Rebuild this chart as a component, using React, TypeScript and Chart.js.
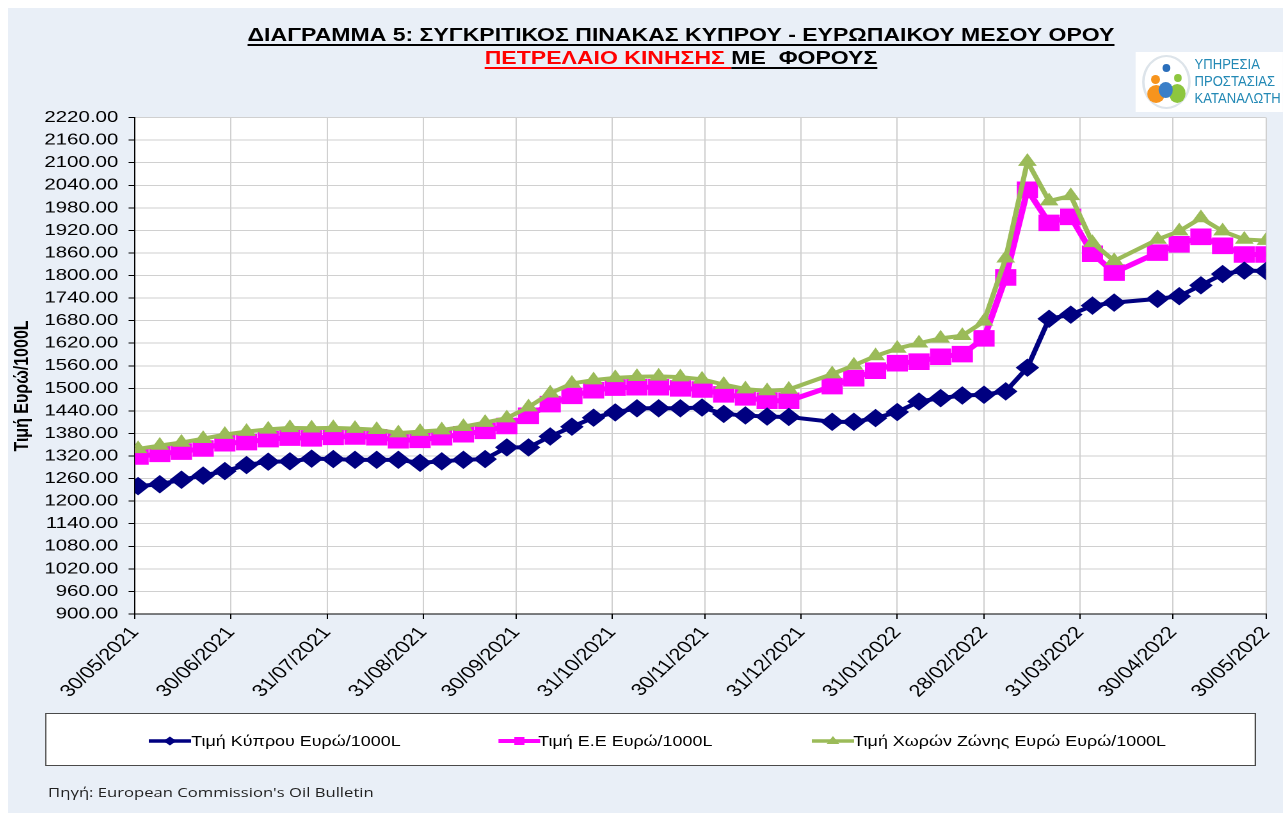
import React, { useEffect, useRef } from "react";
import { Chart, registerables } from "chart.js";

Chart.register(...registerables);

// ---------- DATA ----------
const dates = [
  "31/05/2021", "07/06/2021", "14/06/2021", "21/06/2021", "28/06/2021", "05/07/2021", "12/07/2021",
  "19/07/2021", "26/07/2021", "02/08/2021", "09/08/2021", "16/08/2021", "23/08/2021", "30/08/2021",
  "06/09/2021", "13/09/2021", "20/09/2021", "27/09/2021", "04/10/2021", "11/10/2021", "18/10/2021",
  "25/10/2021", "01/11/2021", "08/11/2021", "15/11/2021", "22/11/2021", "29/11/2021", "06/12/2021",
  "13/12/2021", "20/12/2021", "27/12/2021",
  "10/01/2022", "17/01/2022", "24/01/2022", "31/01/2022", "07/02/2022", "14/02/2022", "21/02/2022",
  "28/02/2022", "07/03/2022", "14/03/2022", "21/03/2022", "28/03/2022", "04/04/2022", "11/04/2022",
  "25/04/2022", "02/05/2022", "09/05/2022", "16/05/2022", "23/05/2022", "30/05/2022",
];

const cyprusPrice = [
  1240, 1245, 1257, 1268, 1280, 1296, 1305, 1306, 1313, 1312, 1310, 1310, 1310, 1302, 1306, 1310,
  1312, 1343, 1343, 1372, 1398, 1422, 1436, 1447, 1447, 1447, 1449, 1432, 1428, 1425, 1424,
  1411, 1411, 1421, 1437, 1465, 1474, 1481, 1483, 1492, 1555, 1685, 1696, 1720, 1728,
  1738, 1745, 1774, 1804, 1813, 1812,
];

const euPrice = [
  1319, 1326, 1332, 1340, 1354, 1357, 1365, 1369, 1367, 1371, 1372, 1370, 1362, 1363, 1370, 1378,
  1387, 1400, 1427, 1458, 1480, 1495, 1502, 1503, 1503, 1500, 1497, 1484, 1476, 1467, 1467,
  1506, 1527, 1547, 1567, 1571, 1584, 1591, 1633, 1795, 2028, 1940, 1956, 1858, 1808,
  1861, 1883, 1903, 1879, 1856, 1856,
];

const euroZonePrice = [
  1339, 1348, 1356, 1366, 1377, 1385, 1391, 1395, 1394, 1395, 1393, 1390, 1381, 1385, 1389, 1398,
  1409, 1421, 1450, 1487, 1513, 1522, 1528, 1531, 1532, 1530, 1524, 1510, 1498, 1493, 1497,
  1538, 1561, 1586, 1606, 1620, 1633, 1640, 1678, 1846, 2103, 1998, 2012, 1887, 1839,
  1896, 1918, 1953, 1918, 1896, 1893,
];

const xTickLabels = [
  "30/05/2021", "30/06/2021", "31/07/2021", "31/08/2021", "30/09/2021", "31/10/2021", "30/11/2021",
  "31/12/2021", "31/01/2022", "28/02/2022", "31/03/2022", "30/04/2022", "30/05/2022",
];

const yMin = 900;
const yMax = 2220;
const yStep = 60;

const seriesLabels = [
  "Τιμή Κύπρου Ευρώ/1000L",
  "Τιμή Ε.Ε Ευρώ/1000L",
  "Τιμή Χωρών Ζώνης Ευρώ Ευρώ/1000L",
];
const seriesColors = ["#000080", "#FF00FF", "#9BBB59"];

const titleLine1 = "ΔΙΑΓΡΑΜΜΑ 5: ΣΥΓΚΡΙΤΙΚΟΣ ΠΙΝΑΚΑΣ ΚΥΠΡΟΥ - ΕΥΡΩΠΑΙΚΟΥ ΜΕΣΟΥ ΟΡΟΥ";
const titleRed = "ΠΕΤΡΕΛΑΙΟ ΚΙΝΗΣΗΣ ";
const titleBlack = "ΜΕ  ΦΟΡΟΥΣ";
const yTitle = "Τιμή Ευρώ/1000L";
const sourceText = "Πηγή: European Commission's Oil Bulletin";
const logoLines = ["ΥΠΗΡΕΣΙΑ", "ΠΡΟΣΤΑΣΙΑΣ", "ΚΑΤΑΝΑΛΩΤΗ"];

// ---------- HELPERS ----------
const ORIGIN = Date.UTC(2021, 4, 30);
const dayNum = (s: string) => {
  const [d, m, y] = s.split("/").map(Number);
  return (Date.UTC(y, m - 1, d) - ORIGIN) / 86400000;
};
const xDays = dates.map(dayNum);
const tickDays = xTickLabels.map(dayNum);
const toPoints = (vals: number[]) => vals.map((v, i) => ({ x: xDays[i], y: v }));

const FONT = "'Liberation Sans', Arial, sans-serif";
const STRETCH = 1.28;
const PANEL_W = 996;

const plotBg = {
  id: "plotBg",
  beforeDraw(chart: any) {
    const { ctx, chartArea } = chart;
    ctx.save();
    ctx.fillStyle = "#ffffff";
    ctx.fillRect(chartArea.left, chartArea.top, chartArea.width, chartArea.height);
    ctx.restore();
  },
};

function LegendMarker({ idx }: { idx: number }) {
  const c = seriesColors[idx];
  return (
    <svg width={33} height={16} style={{ display: "block" }}>
      <line x1={0} y1={8} x2={33} y2={8} stroke={c} strokeWidth={idx === 1 ? 4 : 3.5} />
      {idx === 0 && <polygon points="16.5,3.5 21.5,8 16.5,12.5 11.5,8" fill={c} />}
      {idx === 1 && <rect x={12.5} y={4} width={8} height={8} fill={c} />}
      {idx === 2 && <polygon points="16.5,3 21.5,11 11.5,11" fill={c} />}
    </svg>
  );
}

export default function App() {
  const canvasRef = useRef<HTMLCanvasElement | null>(null);

  useEffect(() => {
    if (!canvasRef.current) return;
    const chart = new Chart(canvasRef.current, {
      type: "line",
      data: {
        datasets: [
          {
            label: seriesLabels[0],
            data: toPoints(cyprusPrice),
            borderColor: seriesColors[0],
            backgroundColor: seriesColors[0],
            borderWidth: 4,
            pointStyle: "rectRot",
            pointRadius: 8.5,
            pointBorderWidth: 1,
            order: 0,
          },
          {
            label: seriesLabels[1],
            data: toPoints(euPrice),
            borderColor: seriesColors[1],
            backgroundColor: seriesColors[1],
            borderWidth: 5,
            pointStyle: "rect",
            pointRadius: 11,
            pointBorderWidth: 1,
            order: 2,
          },
          {
            label: seriesLabels[2],
            data: toPoints(euroZonePrice),
            borderColor: seriesColors[2],
            backgroundColor: seriesColors[2],
            borderWidth: 4,
            pointStyle: "triangle",
            pointRadius: 7.5,
            pointBorderWidth: 1,
            order: 1,
          },
        ],
      },
      options: {
        animation: false,
        responsive: false,
        devicePixelRatio: 2,
        events: [],
        layout: { padding: { left: 0, right: 13.2, top: 14, bottom: 0 } },
        elements: { line: { tension: 0 } },
        plugins: {
          legend: { display: false },
          tooltip: { enabled: false },
          title: { display: false },
        },
        scales: {
          x: {
            type: "linear",
            min: tickDays[0],
            max: tickDays[tickDays.length - 1],
            afterBuildTicks: (scale: any) => {
              scale.ticks = tickDays.map((v) => ({ value: v }));
            },
            afterFit: (scale: any) => {
              scale.height = 86;
              scale.paddingLeft = 0;
              scale.paddingRight = 0;
            },
            ticks: {
              autoSkip: false,
              minRotation: 50,
              maxRotation: 50,
              padding: 4,
              color: "#000",
              font: { family: FONT, size: 17 },
              callback: (_v: any, i: number) => xTickLabels[i],
            },
            grid: { color: "#d0d0d0", tickColor: "#000", tickLength: 5, drawTicks: true },
            border: { color: "#000", width: 1 },
          },
          y: {
            min: yMin,
            max: yMax,
            afterFit: (scale: any) => {
              scale.width = 99.2;
            },
            ticks: {
              stepSize: yStep,
              padding: 8,
              color: "#000",
              font: { family: FONT, size: 16 },
              callback: (v: any) => Number(v).toFixed(2),
            },
            grid: { color: "#d0d0d0", tickColor: "#000", tickLength: 5, drawTicks: true },
            border: { color: "#000", width: 1 },
          },
        },
      },
      plugins: [plotBg],
    } as any);
    return () => chart.destroy();
  }, []);

  const legendPos = [
    { marker: 80.5, text: 113.3 },
    { marker: 353.1, text: 384.4 },
    { marker: 597.7, text: 630.5 },
  ];

  return (
    <div
      style={{
        position: "absolute",
        left: 8,
        top: 8,
        width: 1275,
        height: 805,
        overflow: "hidden",
        background: "#e9eff7",
      }}
    >
      <div
        style={{
          position: "absolute",
          left: 0,
          top: 0,
          width: PANEL_W,
          height: 805,
          transform: `scaleX(${STRETCH})`,
          transformOrigin: "0 0",
          fontFamily: FONT,
        }}
      >
        {/* Title */}
        <div
          style={{
            position: "absolute",
            left: 525.8,
            top: 16,
            transform: "translateX(-50%)",
            whiteSpace: "pre",
            fontWeight: "bold",
            fontSize: 18,
            lineHeight: "23px",
            textAlign: "center",
            color: "#000",
          }}
        >
          <div>
            <span style={{ textDecoration: "underline", textDecorationThickness: 2, textUnderlineOffset: 3 }}>
              {titleLine1}
            </span>
          </div>
          <div>
            <span
              style={{
                color: "#ff0000",
                textDecoration: "underline",
                textDecorationColor: "#ff0000",
                textDecorationThickness: 2,
                textUnderlineOffset: 3,
              }}
            >
              {titleRed}
            </span>
            <span style={{ textDecoration: "underline", textDecorationThickness: 2, textUnderlineOffset: 3 }}>
              {titleBlack}
            </span>
          </div>
        </div>

        {/* Logo */}
        <div
          style={{
            position: "absolute",
            left: 881.3,
            top: 44,
            width: 114.7,
            height: 60,
            background: "#ffffff",
          }}
        >
          <div style={{ position: "absolute", left: 5, top: 3, width: 38, height: 54 }}>
            <div
              style={{
                position: "absolute",
                inset: 0,
                border: "2px solid #dde4ea",
                borderRadius: "50%",
              }}
            />
            <div style={{ position: "absolute", left: 16, top: 9, width: 6, height: 8, borderRadius: "50%", background: "#2a6ebb" }} />
            <div style={{ position: "absolute", left: 7, top: 20, width: 7, height: 9, borderRadius: "50%", background: "#f7941d" }} />
            <div style={{ position: "absolute", left: 25, top: 19, width: 6, height: 8, borderRadius: "50%", background: "#8dc63f" }} />
            <div style={{ position: "absolute", left: 4, top: 30, width: 14, height: 18, borderRadius: "50%", background: "#f7941d" }} />
            <div style={{ position: "absolute", left: 21, top: 29, width: 13, height: 19, borderRadius: "50%", background: "#8dc63f" }} />
            <div style={{ position: "absolute", left: 13, top: 27, width: 11, height: 16, borderRadius: "50%", background: "#3a7fc8" }} />
          </div>
          {logoLines.map((t, i) => (
            <div
              key={t}
              style={{
                position: "absolute",
                left: 46,
                top: 3 + i * 17,
                fontSize: 15,
                lineHeight: "17px",
                color: "#2389b5",
                whiteSpace: "pre",
                transform: "scaleX(0.68)",
                transformOrigin: "0 0",
              }}
            >
              {t}
            </div>
          ))}
        </div>

        {/* Y axis title */}
        <div
          style={{
            position: "absolute",
            left: 10.9,
            top: 378,
            transform: "translate(-50%, -50%) rotate(-90deg)",
            whiteSpace: "pre",
            fontWeight: "bold",
            fontSize: 16,
            lineHeight: "18px",
            color: "#000",
          }}
        >
          {yTitle}
        </div>

        {/* Chart canvas */}
        <canvas
          ref={canvasRef}
          width={PANEL_W}
          height={600}
          style={{ position: "absolute", left: 0, top: 92, width: PANEL_W, height: 600 }}
        />

        {/* Legend */}
        <div
          style={{
            position: "absolute",
            left: 28.9,
            top: 705,
            width: 946,
            height: 53,
            boxSizing: "border-box",
            background: "#ffffff",
            border: "1px solid #4a4a4a",
          }}
        >
          {seriesLabels.map((lab, i) => (
            <React.Fragment key={lab}>
              <div style={{ position: "absolute", left: legendPos[i].marker, top: 19 }}>
                <LegendMarker idx={i} />
              </div>
              <div
                style={{
                  position: "absolute",
                  left: legendPos[i].text,
                  top: 18,
                  fontSize: 14,
                  lineHeight: "18px",
                  whiteSpace: "pre",
                  color: "#000",
                }}
              >
                {lab}
              </div>
            </React.Fragment>
          ))}
        </div>

        {/* Source */}
        <div
          style={{
            position: "absolute",
            left: 31.3,
            top: 775,
            fontFamily: "'Open Sans', sans-serif",
            fontSize: 13,
            lineHeight: "18px",
            whiteSpace: "pre",
            color: "#222",
          }}
        >
          {sourceText}
        </div>
      </div>
    </div>
  );
}
